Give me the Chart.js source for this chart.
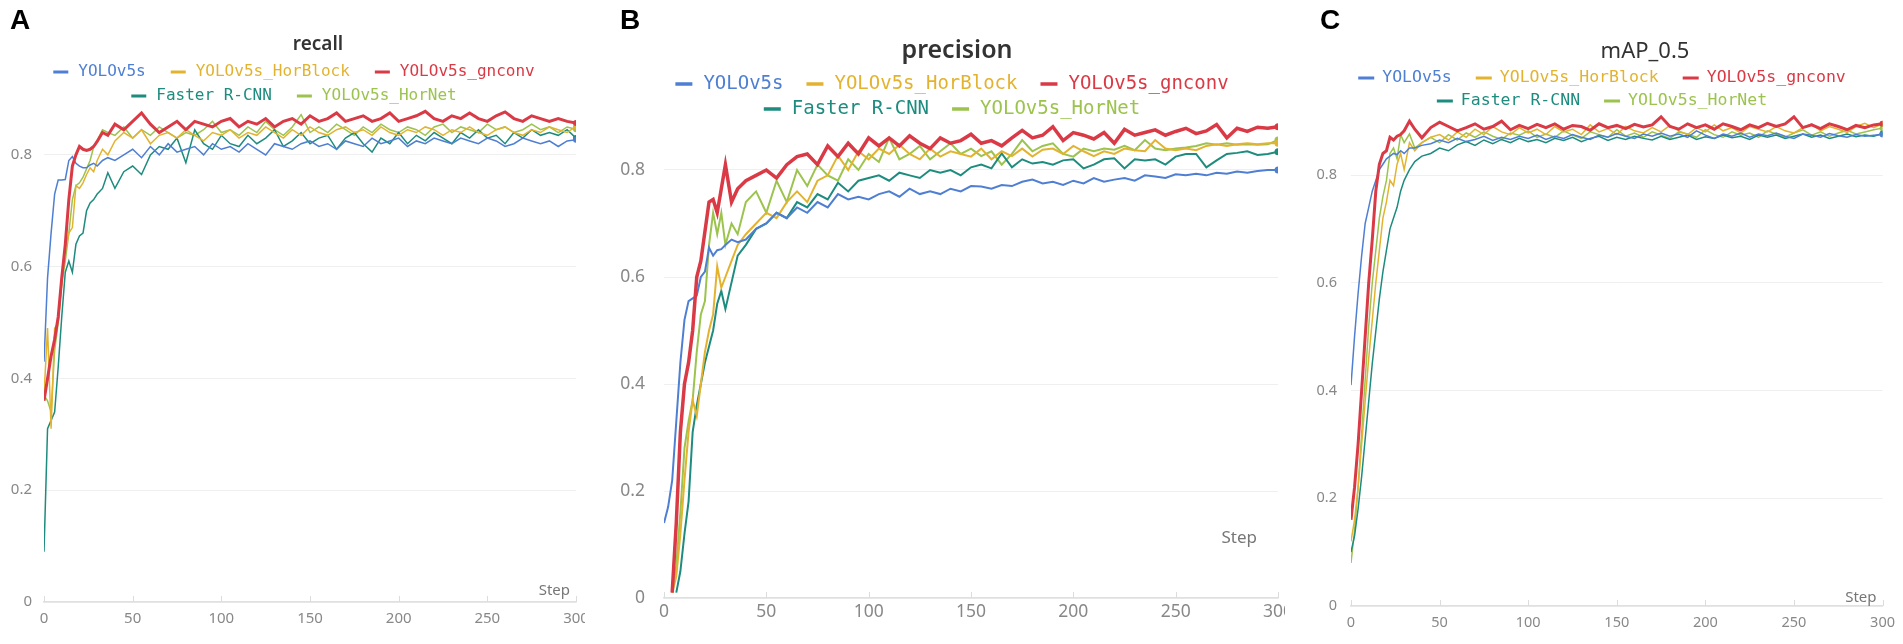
<!DOCTYPE html>
<html>
<head>
<meta charset="utf-8">
<script src="https://cdn.jsdelivr.net/npm/chart.js@4.4.1/dist/chart.umd.min.js"></script>
<style>
html, body { margin: 0; padding: 0; background: #fff; }
body { width: 1903px; height: 644px; position: relative; overflow: hidden; }
.panel { position: absolute; top: 0; height: 644px; background: #fff; }
.letter { position: absolute; top: 6px; font: bold 28px "Liberation Sans", Arial, sans-serif; line-height: 1; color: #000; z-index: 5; }
</style>
</head>
<body>
<div class="panel" style="left:0;width:600px"><canvas id="recall"></canvas></div>
<div class="panel" style="left:585px;width:720px"><canvas id="precision"></canvas></div>
<div class="panel" style="left:1285px;width:618px"><canvas id="map"></canvas></div>
<div class="letter" style="left:10px">A</div>
<div class="letter" style="left:620px">B</div>
<div class="letter" style="left:1320px">C</div>

<script>
// training steps the values were read at
var steps = [0,2,4,6,8,10,12,14,16,18,20,22,24,26,28,30,33,36,40,
  45,50,55,60,65,70,75,80,85,90,95,100,105,
  110,115,120,125,130,135,140,145,150,155,160,165,170,
  175,180,185,190,195,200,205,210,215,220,225,230,235,
  240,245,250,255,260,265,270,275,280,285,290,295,300];

var names = ["YOLOv5s", "YOLOv5s_HorBlock", "YOLOv5s_gnconv", "Faster R-CNN", "YOLOv5s_HorNet"];
var colors = ["#4e7fd3", "#e3b330", "#d93a45", "#1d8c7e", "#9cc34e"];

// recall
var recallYolo = [0.43,0.58,0.66,0.73,0.755,0.755,0.756,0.79,0.797,0.785,0.78,0.777,0.777,0.782,0.785,0.78,0.79,0.795,0.79,
  0.80,0.81,0.795,0.815,0.80,0.82,0.805,0.81,0.815,0.80,0.82,0.81,0.815,
  0.805,0.82,0.81,0.80,0.82,0.815,0.81,0.82,0.825,0.815,0.82,0.81,0.825,
  0.82,0.815,0.83,0.82,0.825,0.83,0.815,0.825,0.82,0.83,0.825,0.82,0.83,
  0.825,0.82,0.83,0.825,0.815,0.82,0.83,0.825,0.82,0.825,0.815,0.825,0.827];
var recallHorBlock = [0.37,0.49,0.31,0.49,0.50,0.57,0.63,0.66,0.67,0.745,0.74,0.75,0.765,0.777,0.77,0.79,0.81,0.80,0.825,
  0.84,0.83,0.845,0.82,0.835,0.84,0.83,0.845,0.835,0.825,0.84,0.835,0.845,
  0.83,0.84,0.835,0.85,0.84,0.83,0.845,0.835,0.85,0.84,0.835,0.845,0.85,
  0.84,0.845,0.835,0.85,0.84,0.835,0.845,0.84,0.85,0.845,0.835,0.845,0.84,
  0.85,0.84,0.835,0.845,0.85,0.84,0.835,0.845,0.84,0.85,0.845,0.84,0.851];
var recallGnconv = [0.36,0.40,0.44,0.47,0.51,0.58,0.64,0.72,0.78,0.80,0.815,0.81,0.808,0.81,0.815,0.824,0.84,0.835,0.855,
  0.845,0.86,0.875,0.855,0.84,0.85,0.86,0.845,0.86,0.855,0.85,0.86,0.865,
  0.85,0.86,0.855,0.865,0.85,0.86,0.865,0.855,0.87,0.86,0.865,0.875,0.86,
  0.865,0.87,0.86,0.865,0.875,0.86,0.865,0.87,0.878,0.865,0.86,0.87,0.865,
  0.875,0.865,0.86,0.87,0.877,0.865,0.86,0.87,0.865,0.86,0.865,0.86,0.857];
var recallFaster = [0.09,0.31,0.325,0.34,0.42,0.51,0.59,0.61,0.59,0.64,0.655,0.66,0.70,0.714,0.72,0.73,0.74,0.768,0.74,
  0.77,0.78,0.765,0.80,0.815,0.81,0.83,0.786,0.845,0.82,0.81,0.835,0.82,
  0.815,0.835,0.82,0.83,0.845,0.815,0.825,0.84,0.82,0.83,0.835,0.81,0.83,
  0.84,0.82,0.805,0.83,0.82,0.84,0.82,0.835,0.825,0.84,0.83,0.82,0.84,
  0.83,0.845,0.83,0.835,0.82,0.84,0.83,0.845,0.835,0.84,0.835,0.845,0.83];
var recallHorNet = [0.37,0.36,0.34,0.45,0.50,0.57,0.61,0.66,0.72,0.745,0.75,0.76,0.775,0.79,0.814,0.826,0.845,0.84,0.835,
  0.85,0.83,0.845,0.835,0.85,0.84,0.83,0.84,0.835,0.845,0.86,0.84,0.845,
  0.835,0.85,0.84,0.86,0.845,0.835,0.85,0.872,0.84,0.85,0.84,0.855,0.845,
  0.835,0.85,0.84,0.855,0.845,0.84,0.85,0.845,0.835,0.85,0.855,0.84,0.85,
  0.845,0.84,0.855,0.845,0.85,0.84,0.845,0.855,0.845,0.85,0.84,0.85,0.846];

// precision
var precYolo = [0.14,0.17,0.22,0.33,0.44,0.52,0.555,0.56,0.565,0.60,0.61,0.655,0.64,0.65,0.652,0.66,0.67,0.665,0.67,
  0.69,0.70,0.72,0.71,0.73,0.72,0.74,0.73,0.755,0.745,0.75,0.745,0.755,
  0.76,0.75,0.765,0.755,0.76,0.755,0.765,0.76,0.77,0.769,0.765,0.772,0.77,
  0.778,0.782,0.775,0.778,0.772,0.78,0.775,0.785,0.778,0.782,0.785,0.78,0.79,
  0.788,0.785,0.792,0.79,0.793,0.79,0.795,0.793,0.797,0.795,0.798,0.80,0.80];
var precHorBlock = [null,null,0.01,0.04,0.12,0.22,0.31,0.37,0.34,0.40,0.46,0.50,0.53,0.62,0.58,0.60,0.63,0.66,0.68,
  0.70,0.72,0.71,0.74,0.76,0.74,0.78,0.79,0.827,0.80,0.835,0.82,0.84,
  0.83,0.847,0.83,0.82,0.84,0.825,0.835,0.83,0.825,0.84,0.82,0.835,0.826,
  0.84,0.825,0.838,0.84,0.83,0.845,0.835,0.826,0.835,0.83,0.84,0.837,0.835,
  0.856,0.84,0.837,0.84,0.837,0.845,0.848,0.845,0.848,0.85,0.848,0.85,0.85];
var precGnconv = [null,null,0.01,0.14,0.31,0.40,0.44,0.50,0.60,0.63,0.685,0.74,0.745,0.72,0.765,0.81,0.74,0.765,0.78,
  0.79,0.80,0.785,0.81,0.825,0.83,0.81,0.845,0.825,0.85,0.83,0.86,0.845,
  0.86,0.845,0.864,0.85,0.84,0.86,0.85,0.855,0.867,0.85,0.855,0.845,0.86,
  0.874,0.86,0.865,0.881,0.855,0.87,0.865,0.858,0.87,0.85,0.876,0.865,0.87,
  0.875,0.865,0.872,0.878,0.868,0.873,0.885,0.86,0.878,0.872,0.88,0.878,0.881];
var precFaster = [null,null,null,0.01,0.05,0.12,0.18,0.31,0.36,0.40,0.44,0.47,0.50,0.55,0.574,0.54,0.59,0.64,0.66,
  0.69,0.70,0.72,0.71,0.74,0.73,0.755,0.745,0.776,0.76,0.78,0.785,0.79,
  0.78,0.795,0.79,0.785,0.80,0.795,0.80,0.79,0.805,0.81,0.803,0.831,0.805,
  0.82,0.812,0.815,0.81,0.818,0.82,0.803,0.81,0.82,0.822,0.803,0.82,0.818,
  0.82,0.81,0.825,0.83,0.83,0.805,0.818,0.83,0.832,0.835,0.828,0.83,0.834];
var precHorNet = [null,null,0.01,0.06,0.16,0.28,0.33,0.37,0.46,0.53,0.555,0.66,0.72,0.68,0.72,0.66,0.70,0.68,0.74,
  0.76,0.72,0.78,0.74,0.80,0.77,0.81,0.79,0.78,0.82,0.80,0.83,0.815,
  0.86,0.82,0.83,0.845,0.82,0.835,0.85,0.83,0.84,0.826,0.835,0.81,0.83,
  0.856,0.835,0.845,0.85,0.83,0.825,0.84,0.835,0.84,0.838,0.845,0.837,0.856,
  0.84,0.837,0.84,0.842,0.845,0.85,0.847,0.85,0.847,0.848,0.847,0.848,0.856];

// mAP_0.5
var mapYolo = [0.41,0.50,0.58,0.65,0.71,0.74,0.77,0.79,0.81,0.82,0.83,0.835,0.84,0.838,0.845,0.84,0.85,0.85,0.855,
  0.858,0.865,0.86,0.868,0.862,0.866,0.872,0.864,0.87,0.866,0.872,0.868,0.874,
  0.866,0.872,0.868,0.875,0.87,0.866,0.874,0.87,0.877,0.872,0.868,0.876,0.872,
  0.878,0.872,0.876,0.87,0.882,0.874,0.868,0.876,0.872,0.878,0.87,0.876,0.873,
  0.878,0.872,0.868,0.876,0.874,0.87,0.877,0.873,0.87,0.875,0.872,0.874,0.875];
var mapHorBlock = [0.12,0.16,0.22,0.30,0.38,0.46,0.53,0.60,0.66,0.72,0.75,0.79,0.78,0.82,0.84,0.81,0.86,0.845,0.86,
  0.87,0.875,0.865,0.88,0.87,0.885,0.875,0.89,0.88,0.875,0.888,0.878,0.885,
  0.875,0.89,0.88,0.885,0.875,0.893,0.88,0.886,0.875,0.89,0.882,0.878,0.888,
  0.88,0.892,0.882,0.875,0.888,0.88,0.893,0.882,0.888,0.878,0.89,0.885,0.88,
  0.89,0.882,0.878,0.888,0.895,0.882,0.89,0.885,0.879,0.89,0.896,0.888,0.895];
var mapGnconv = [0.16,0.22,0.30,0.40,0.50,0.60,0.68,0.77,0.82,0.84,0.845,0.87,0.865,0.872,0.875,0.882,0.90,0.885,0.869,
  0.888,0.898,0.89,0.882,0.888,0.895,0.885,0.89,0.90,0.884,0.892,0.886,0.894,
  0.888,0.895,0.885,0.892,0.89,0.883,0.895,0.888,0.892,0.886,0.894,0.889,0.893,
  0.908,0.89,0.885,0.895,0.888,0.893,0.885,0.895,0.89,0.884,0.893,0.888,0.896,
  0.89,0.895,0.908,0.888,0.893,0.886,0.895,0.89,0.884,0.892,0.888,0.893,0.895];
var mapFaster = [0.10,0.13,0.18,0.24,0.31,0.38,0.45,0.51,0.57,0.62,0.66,0.70,0.72,0.74,0.77,0.79,0.81,0.825,0.835,
  0.84,0.85,0.845,0.856,0.862,0.855,0.865,0.858,0.866,0.86,0.868,0.862,0.866,
  0.86,0.868,0.864,0.87,0.862,0.868,0.872,0.864,0.87,0.866,0.872,0.868,0.865,
  0.872,0.866,0.87,0.874,0.866,0.871,0.868,0.874,0.869,0.872,0.866,0.874,0.87,
  0.874,0.868,0.872,0.876,0.87,0.874,0.868,0.872,0.876,0.871,0.874,0.872,0.877];
var mapHorNet = [0.08,0.14,0.22,0.32,0.42,0.52,0.60,0.66,0.72,0.76,0.79,0.84,0.85,0.83,0.875,0.86,0.876,0.85,0.86,
  0.87,0.86,0.875,0.865,0.878,0.87,0.88,0.872,0.866,0.878,0.874,0.882,0.87,
  0.876,0.87,0.882,0.874,0.868,0.88,0.875,0.87,0.884,0.872,0.878,0.87,0.88,
  0.874,0.868,0.88,0.876,0.87,0.884,0.875,0.87,0.88,0.874,0.878,0.87,0.882,
  0.876,0.87,0.878,0.884,0.874,0.88,0.872,0.878,0.883,0.876,0.88,0.884,0.887];

// title, two-row legend, "Step" and small inner tick marks
var panelDecor = {
  id: "panelDecor",
  afterDraw: function(chart, args, o) {
    var ctx = chart.ctx, area = chart.chartArea, xs = chart.scales.x;
    ctx.save();
    ctx.strokeStyle = "#dcdcdc";
    ctx.lineWidth = 1;
    xs.ticks.forEach(function(t) {
      var px = Math.round(xs.getPixelForValue(t.value)) + 0.5;
      ctx.beginPath();
      ctx.moveTo(px, area.bottom);
      ctx.lineTo(px, area.bottom - 6);
      ctx.stroke();
    });

    ctx.fillStyle = "#333";
    ctx.font = o.titleFont;
    ctx.textAlign = "center";
    ctx.textBaseline = "middle";
    ctx.fillText(o.title, o.titleX, o.titleY);

    ctx.font = o.legendSize + 'px "DejaVu Sans Mono", monospace';
    ctx.textAlign = "left";
    o.rows.forEach(function(row, r) {
      var items = row.map(function(i) { return chart.data.datasets[i]; });
      var widths = items.map(function(d) { return o.box + o.gap + ctx.measureText(d.label).width; });
      var total = widths.reduce(function(a, b) { return a + b; }, 0) + o.itemGap * (items.length - 1);
      var x = o.legendX - total / 2, y = o.rowY[r];
      items.forEach(function(d, k) {
        ctx.fillStyle = d.borderColor;
        ctx.fillRect(x, y - o.boxH / 2, o.box, o.boxH);
        ctx.fillText(d.label, x + o.box + o.gap, y);
        x += widths[k] + o.itemGap;
      });
    });

    ctx.fillStyle = "#777";
    ctx.font = o.stepFont;
    ctx.textAlign = "right";
    ctx.fillText("Step", area.right - o.stepDx, area.bottom - o.stepDy);
    ctx.restore();
  }
};

function makeChart(id, series, p) {
  var last = steps.length - 1;
  var datasets = series.map(function(vals, i) {
    return {
      label: names[i],
      data: steps.map(function(s, k) { return {x: s, y: vals[k]}; }),
      borderColor: colors[i],
      backgroundColor: colors[i],
      borderWidth: i == 2 ? p.thick : p.thin,
      order: i == 2 ? 0 : 1,
      pointRadius: function(c) { return c.dataIndex == last ? p.dot : 0; },
      pointBorderWidth: 0,
      pointHoverRadius: 0,
      tension: 0
    };
  });
  var tickFont = {family: "Noto Sans", size: p.tick};
  return new Chart(document.getElementById(id), {
    type: "line",
    data: {datasets: datasets},
    plugins: [panelDecor],
    options: {
      responsive: true,
      maintainAspectRatio: false,
      animation: false,
      layout: {padding: {top: p.top, right: p.right, left: 0, bottom: 0}},
      plugins: {
        legend: {display: false},
        title: {display: false},
        tooltip: {enabled: false},
        panelDecor: p.decor
      },
      scales: {
        x: {
          type: "linear", min: 0, max: 300,
          afterFit: function(s) { s.height = p.xh; },
          grid: {display: false, drawTicks: false},
          border: {display: true, color: "#e0e0e0", width: 1.5},
          ticks: {stepSize: 50, color: "#888", font: tickFont, padding: p.xpad, maxRotation: 0}
        },
        y: {
          min: 0, max: p.ymax,
          afterFit: function(s) { s.width = p.yw; },
          grid: {color: "#efefef", drawTicks: false},
          border: {display: false},
          ticks: {stepSize: 0.2, includeBounds: false, color: "#888", font: tickFont, padding: p.ypad}
        }
      }
    }
  });
}

makeChart("recall", [recallYolo, recallHorBlock, recallGnconv, recallFaster, recallHorNet], {
  top: 99, right: 24, xh: 42, yw: 44, ymax: 0.9, tick: 15, xpad: 8, ypad: 12,
  thick: 3, thin: 1.5, dot: 3,
  decor: {title: "recall", titleFont: '600 19px "Noto Sans"', titleX: 318, titleY: 45,
    legendSize: 16, box: 15, boxH: 3, gap: 10, itemGap: 25, legendX: 294, rowY: [72, 96],
    rows: [[0, 1, 2], [3, 4]], stepFont: '15px "Noto Sans"', stepDx: 6, stepDy: 11}
});

makeChart("precision", [precYolo, precHorBlock, precGnconv, precFaster, precHorNet], {
  top: 116.5, right: 27, xh: 46, yw: 79, ymax: 0.9, tick: 17.5, xpad: 4, ypad: 19,
  thick: 3.5, thin: 2, dot: 3.5,
  decor: {title: "precision", titleFont: '600 25px "Noto Sans"', titleX: 372, titleY: 51,
    legendSize: 19, box: 17, boxH: 3.5, gap: 11, itemGap: 23, legendX: 367, rowY: [84, 109],
    rows: [[0, 1, 2], [3, 4]], stepFont: '17px "Noto Sans"', stepDx: 21, stepDy: 60}
});

makeChart("map", [mapYolo, mapHorBlock, mapGnconv, mapFaster, mapHorNet], {
  top: 110.35, right: 20, xh: 38, yw: 66, ymax: 0.92, tick: 14.5, xpad: 8, ypad: 14,
  thick: 3, thin: 1.5, dot: 3,
  decor: {title: "mAP_0.5", titleFont: '400 22px "Noto Sans"', titleX: 360, titleY: 52,
    legendSize: 16.5, box: 16, boxH: 3, gap: 8, itemGap: 24, legendX: 317, rowY: [78, 101],
    rows: [[0, 1, 2], [3, 4]], stepFont: '15px "Noto Sans"', stepDx: 6, stepDy: 8}
});
</script>
</body>
</html>
